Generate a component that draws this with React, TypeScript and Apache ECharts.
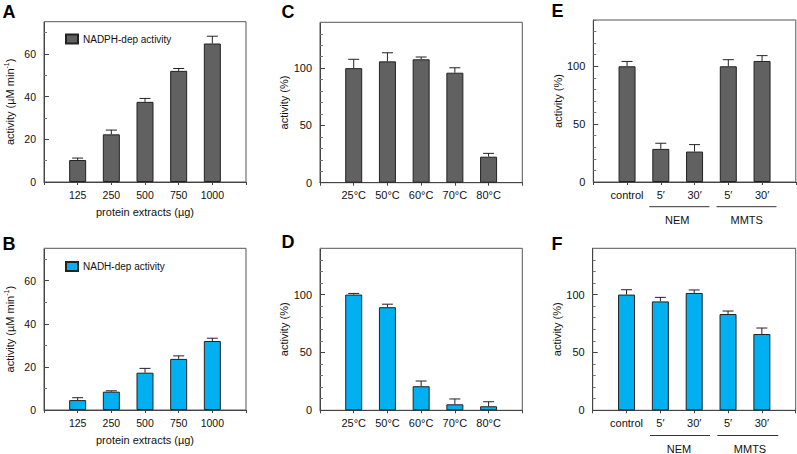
import React, { useEffect, useRef } from "react";
import * as echarts from "echarts";

// ---- data ----
const proteinCats = ["125", "250", "500", "750", "1000"];
const nadphActivity = [10.3, 22.3, 37.5, 52.0, 64.8];
const nadphActivitySd = [0.9, 2.0, 1.6, 1.1, 3.4];
const nadhActivity = [4.6, 8.5, 17.3, 23.7, 32.0];
const nadhActivitySd = [1.1, 0.4, 2.0, 1.4, 1.3];

const tempCats = ["25°C", "50°C", "60°C", "70°C", "80°C"];
const tempNadph = [100, 105.9, 107.7, 96.0, 22.7];
const tempNadphSd = [7.7, 7.5, 2.0, 4.3, 2.9];
const tempNadh = [100, 89.1, 20.8, 5.2, 3.5];
const tempNadhSd = [1.0, 2.6, 4.5, 4.6, 3.9];

const treatCats = ["control", "5′", "30′", "5′", "30′"];
const treatGroups = ["NEM", "MMTS"];
const treatNadph = [100, 28.6, 26.3, 100, 104.6];
const treatNadphSd = [4.2, 4.9, 6.0, 5.7, 4.6];
const treatNadh = [100, 94.1, 101.4, 83.2, 65.9];
const treatNadhSd = [4.2, 3.5, 2.6, 2.6, 5.2];

const panelLetters = ["A", "B", "C", "D", "E", "F"];

const GREY = "#616161";
const BLUE = "#00b0f0";
const LINE = "#444";
const FONT = '"Liberation Sans", Arial, Helvetica, sans-serif';

type Panel = {
  grid: { left: number; top: number; width: number; height: number };
  cats: string[];
  vals: number[];
  sds: number[];
  color: string;
  yMax: number;
  major: number;
  yName: string;
  yNameGap: number;
  xName?: string;
  seriesName: string;
  labelSize: number;
};

const panels: Panel[] = [
  { grid: { left: 44, top: 21.7, width: 202, height: 160.3 }, cats: proteinCats, vals: nadphActivity, sds: nadphActivitySd, color: GREY, yMax: 75, major: 20, yName: "activity (µM min{sup|-1})", yNameGap: 28, xName: "protein extracts (µg)", seriesName: "NADPH-dep activity", labelSize: 10.5 },
  { grid: { left: 44, top: 248.3, width: 202, height: 161.7 }, cats: proteinCats, vals: nadhActivity, sds: nadhActivitySd, color: BLUE, yMax: 75, major: 20, yName: "activity (µM min{sup|-1})", yNameGap: 28, xName: "protein extracts (µg)", seriesName: "NADH-dep activity", labelSize: 10.5 },
  { grid: { left: 320, top: 22.3, width: 202.3, height: 160.4 }, cats: tempCats, vals: tempNadph, sds: tempNadphSd, color: GREY, yMax: 140, major: 50, yName: "activity (%)", yNameGap: 27, seriesName: "tempNadph", labelSize: 11 },
  { grid: { left: 320, top: 248.3, width: 202.3, height: 162 }, cats: tempCats, vals: tempNadh, sds: tempNadhSd, color: BLUE, yMax: 140, major: 50, yName: "activity (%)", yNameGap: 27, seriesName: "tempNadh", labelSize: 11 },
  { grid: { left: 593.3, top: 20, width: 202.5, height: 162 }, cats: treatCats, vals: treatNadph, sds: treatNadphSd, color: GREY, yMax: 140, major: 50, yName: "activity (%)", yNameGap: 27, seriesName: "treatNadph", labelSize: 11 },
  { grid: { left: 592.7, top: 248.3, width: 203, height: 162 }, cats: treatCats, vals: treatNadh, sds: treatNadhSd, color: BLUE, yMax: 140, major: 50, yName: "activity (%)", yNameGap: 27, seriesName: "treatNadh", labelSize: 11 },
];

const letterPos = [
  [2.5, 11.5], [2.5, 244], [281.5, 12], [281.5, 241.5], [551.5, 11], [551.5, 244],
];

function buildOption() {
  const grid: any[] = [];
  const xAxis: any[] = [];
  const yAxis: any[] = [];
  const series: any[] = [];

  panels.forEach((p, i) => {
    grid.push({
      ...p.grid,
      show: true,
      borderColor: "#555",
      borderWidth: 1,
      backgroundColor: "transparent",
      containLabel: false,
      outerBoundsMode: "none",
    });
    xAxis.push({
      type: "value",
      gridIndex: i,
      min: 0,
      max: 6,
      interval: 1,
      splitLine: { show: false },
      axisLine: { show: true, lineStyle: { color: LINE, width: 1 } },
      axisTick: { show: true, length: 3, lineStyle: { color: LINE } },
      axisLabel: {
        formatter: (v: number) => p.cats[v - 1] ?? "",
        fontSize: p.labelSize,
        color: "#111",
        margin: 7,
        fontFamily: FONT,
      },
      name: p.xName ?? "",
      nameLocation: "middle",
      nameGap: 24,
      nameTextStyle: { fontSize: 11, color: "#111", fontFamily: FONT },
    });
    // minor ticks axis
    yAxis.push({
      type: "value",
      gridIndex: i,
      min: 0,
      max: p.yMax,
      interval: 10,
      position: "left",
      splitLine: { show: false },
      axisLine: { show: true, lineStyle: { color: LINE, width: 1 } },
      axisTick: { show: true, inside: true, length: 3, lineStyle: { color: "#777" } },
      axisLabel: { show: false },
    });
    // major ticks + labels axis
    yAxis.push({
      type: "value",
      gridIndex: i,
      min: 0,
      max: p.yMax,
      interval: p.major,
      position: "left",
      splitLine: { show: false },
      axisLine: { show: false },
      axisTick: { show: true, inside: true, length: 5, lineStyle: { color: LINE } },
      axisLabel: {
        fontSize: p.labelSize,
        color: "#111",
        margin: 8,
        showMaxLabel: false,
        fontFamily: FONT,
      },
      name: p.yName,
      nameLocation: "middle",
      nameRotate: 90,
      nameGap: p.yNameGap,
      nameTextStyle: {
        fontSize: 11,
        color: "#111",
        fontFamily: FONT,
        rich: { sup: { fontSize: 7, verticalAlign: "top", color: "#111", fontFamily: FONT, padding: [0, 0, 6, 0] } },
      },
    });

    series.push({
      type: "bar",
      name: p.seriesName,
      xAxisIndex: i,
      yAxisIndex: 2 * i,
      barWidth: 17,
      data: p.vals.map((v, k) => [k + 1, v]),
      itemStyle: { color: p.color, borderColor: "#222", borderWidth: 1 },
      emphasis: { disabled: true },
    });
    series.push({
      type: "custom",
      name: p.seriesName + "-err",
      xAxisIndex: i,
      yAxisIndex: 2 * i,
      data: p.vals.map((v, k) => [k + 1, v, v + p.sds[k]]),
      encode: { x: 0, y: [1, 2] },
      z: 5,
      renderItem: (_params: any, api: any) => {
        const x = api.value(0);
        const m = api.value(1);
        const t = api.value(2);
        const p0 = api.coord([x, m]);
        const p1 = api.coord([x, t]);
        const st = { stroke: "#222", lineWidth: 1 };
        return {
          type: "group",
          children: [
            { type: "line", shape: { x1: p0[0], y1: p0[1], x2: p1[0], y2: p1[1] }, style: st },
            { type: "line", shape: { x1: p1[0] - 5.5, y1: p1[1], x2: p1[0] + 5.5, y2: p1[1] }, style: st },
          ],
        };
      },
    });
  });

  const legend = [0, 1].map((i) => ({
    data: [panels[i].seriesName],
    left: 65,
    top: i === 0 ? 33.5 : 261,
    padding: 0,
    itemWidth: 12,
    itemHeight: 9,
    itemGap: 5,
    icon: "rect",
    selectedMode: false,
    textStyle: { fontSize: 10, color: "#111", fontFamily: FONT, padding: [0, 0, 0, 0] },
  }));

  const graphic: any[] = [];
  panelLetters.forEach((l, i) => {
    graphic.push({
      type: "text",
      x: letterPos[i][0],
      y: letterPos[i][1],
      style: { text: l, font: `bold 18px ${FONT}`, fill: "#000", verticalAlign: "middle" },
    });
  });
  // group annotations for E and F
  const groupRows = [
    { lineY: 206.7, textY: 220, spans: [[649.3, 709.5], [716.5, 776.5]], centers: [677.3, 746.7] },
    { lineY: 435.5, textY: 449, spans: [[650, 710], [717.3, 778.3]], centers: [679, 750] },
  ];
  groupRows.forEach((r) => {
    treatGroups.forEach((g, k) => {
      graphic.push({
        type: "line",
        shape: { x1: r.spans[k][0], y1: r.lineY, x2: r.spans[k][1], y2: r.lineY },
        style: { stroke: "#333", lineWidth: 1 },
      });
      graphic.push({
        type: "text",
        x: r.centers[k],
        y: r.textY,
        style: { text: g, font: `11px ${FONT}`, fill: "#111", align: "center", verticalAlign: "middle" },
      });
    });
  });

  return {
    animation: false,
    backgroundColor: "#fff",
    textStyle: { fontFamily: FONT },
    grid,
    xAxis,
    yAxis,
    series,
    legend,
    graphic,
  };
}

export default function App() {
  const ref = useRef<HTMLDivElement>(null);
  useEffect(() => {
    if (!ref.current) return;
    const chart = echarts.init(ref.current, undefined, { renderer: "svg" });
    chart.setOption(buildOption() as any);
    return () => chart.dispose();
  }, []);
  return <div ref={ref} style={{ position: "absolute", left: 0, top: 0, width: 797, height: 454 }} />;
}
